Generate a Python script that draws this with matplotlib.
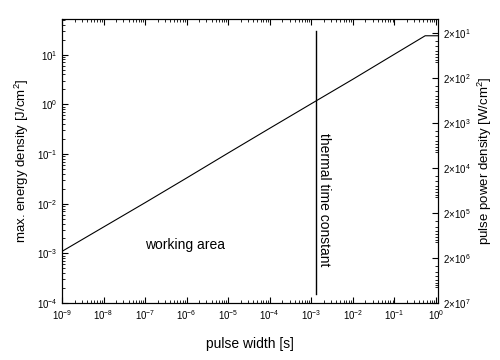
import numpy as np
import matplotlib
matplotlib.use("Agg")
import matplotlib.pyplot as plt

plt.rcParams['font.family'] = ['Liberation Sans', 'DejaVu Sans']
plt.rcParams['mathtext.fontset'] = 'custom'
plt.rcParams['mathtext.rm'] = 'Liberation Sans'

# pulse width [s] vs max. energy density [J/cm^2]
pulse_width = [1e-9, 1e-8, 1e-7, 1e-6, 1e-5, 1e-4, 1e-3, 1e-2, 1e-1, 0.55, 1.12]
energy = [1.1e-3, 3.4e-3, 1.05e-2, 3.3e-2, 0.105, 0.33, 1.03, 3.2, 10.2, 24, 24]

tau_thermal = 1.3e-3
tau_span = [1.5e-4, 30]

right_ticks = [2e1, 2e2, 2e3, 2e4, 2e5, 2e6, 2e7]
right_labels = [r'$2{\times}10^{%d}$' % n for n in range(1, 8)]

fig = plt.figure(figsize=(5, 3.6), dpi=100)
ax = fig.add_axes([0.124, 0.158, 0.752, 0.789])

ax.plot(pulse_width, energy, color='black', lw=0.8)
ax.plot([tau_thermal, tau_thermal], tau_span, color='black', lw=1.0)

ax.set_xscale('log')
ax.set_yscale('log')
ax.set_xlim(1e-9, 1.12)
ax.set_ylim(1e-4, 52)
ax.set_xticks([10.0**k for k in range(-9, 1)])
ax.set_yticks([10.0**k for k in range(-4, 2)])
ax.tick_params(which='both', direction='in', top=True, labelsize=7)
ax.tick_params(which='major', length=4)
ax.tick_params(which='minor', length=2)

ax.set_xlabel('pulse width [s]', fontsize=10, labelpad=11)
ax.set_ylabel('max. energy density [J/cm$^2$]', fontsize=9.5, labelpad=4)

ax.text(1e-7, 1.45e-3, 'working area', fontsize=10, va='center', ha='left')
ax.text(2.0e-3, 1.2e-2, 'thermal time constant', fontsize=10, rotation=270,
        va='center', ha='center')

ax2 = ax.twinx()
ax2.set_yscale('log')
ax2.set_ylim(2e7, 10)
ax2.set_yticks(right_ticks)
ax2.set_yticklabels(right_labels)
ax2.tick_params(which='both', direction='in', labelsize=7)
ax2.tick_params(which='major', length=4)
ax2.tick_params(which='minor', length=2)
ax2.set_ylabel('pulse power density [W/cm$^2$]', fontsize=9.5, labelpad=4)

for a in (ax, ax2):
    for s in a.spines.values():
        s.set_linewidth(0.8)

fig.savefig('out.png', dpi=100)
